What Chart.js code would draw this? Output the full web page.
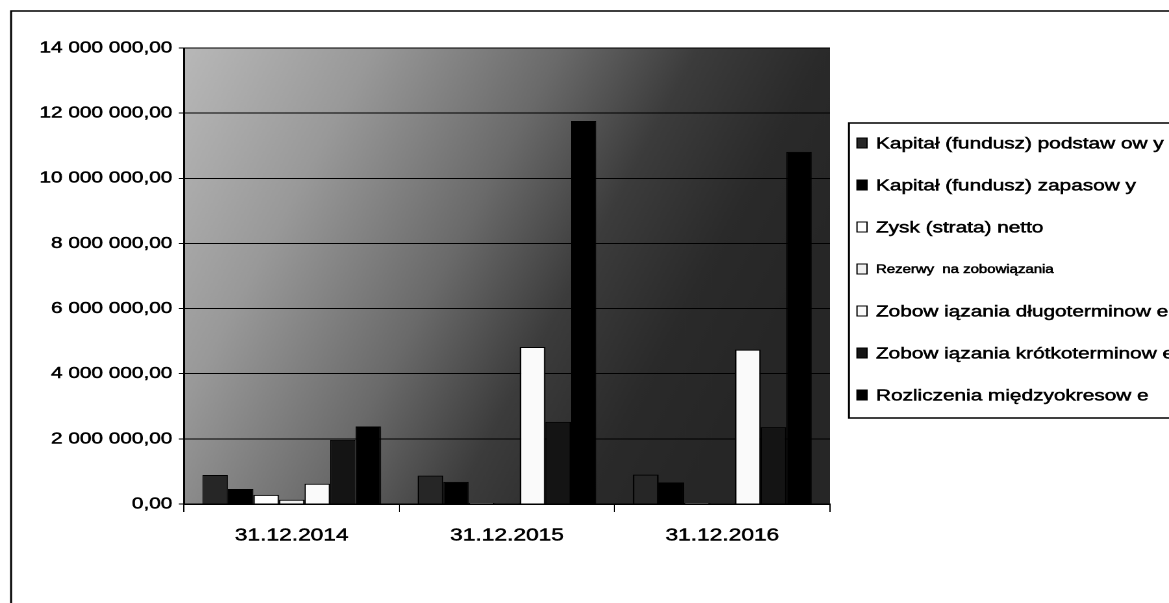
<!DOCTYPE html>
<html>
<head>
<meta charset="utf-8">
<script src="https://cdn.jsdelivr.net/npm/chart.js@4"></script>
<style>
  html, body { margin: 0; padding: 0; background: #fff; overflow: hidden; }
  /* the scan is stretched horizontally, so draw narrow and widen */
  #wrap { position: absolute; left: 0; top: 0; width: 900px; height: 603px;
          transform: scaleX(1.29889); transform-origin: 0 0; }
</style>
</head>
<body>
<div id="wrap"><canvas id="myBarChart"></canvas></div>
<script>
var categories = ['31.12.2014', '31.12.2015', '31.12.2016'];

var kapitalPodstawowy = [890000, 870000, 900000];
var kapitalZapasowy = [460000, 680000, 660000];
var zyskNetto = [280000, 30000, 30000];
var rezerwy = [130000, 20000, 20000];
var zobDlugoterminowe = [620000, 4820000, 4740000];
var zobKrotkoterminowe = [1970000, 2520000, 2360000];
var rozliczenia = [2380000, 11760000, 10810000];

var yMax = 14000000;
var yStep = 2000000;

function formatPl(v) {
    var parts = v.toFixed(2).split('.');
    var intPart = parts[0].replace(/\B(?=(\d{3})+(?!\d))/g, ' ');
    return intPart + ',' + parts[1];
}

var ctx = document.getElementById('myBarChart').getContext('2d');

// page frame + plot background
var backgroundPlugin = {
    id: 'backgroundPlugin',
    beforeDraw: function(chart) {
        var c = chart.ctx;
        var a = chart.chartArea;
        c.save();
        c.fillStyle = '#fff';
        c.fillRect(0, 0, chart.width, chart.height);
        c.strokeStyle = '#000';
        c.lineWidth = 1.5;
        c.beginPath();
        c.moveTo(8.5, chart.height + 2);
        c.lineTo(8.5, 11);
        c.lineTo(chart.width + 5, 11);
        c.stroke();
        var g = c.createLinearGradient(a.left, a.top, a.right, a.top + a.height * 0.45);
        g.addColorStop(0, '#b8b8b8');
        g.addColorStop(0.25, '#999999');
        g.addColorStop(0.5, '#6a6a6a');
        g.addColorStop(0.68, '#3c3c3c');
        g.addColorStop(0.85, '#2a2a2a');
        g.addColorStop(1, '#262626');
        c.fillStyle = g;
        c.fillRect(a.left, a.top, a.width, a.height);
        c.restore();
    }
};

// legend box on the right, cut by the page edge
var legendPlugin = {
    id: 'legendPlugin',
    afterDraw: function(chart) {
        var c = chart.ctx;
        var left = 653.6, top = 123, bottom = 418;
        c.save();
        c.fillStyle = '#fff';
        c.fillRect(left, top, chart.width - left + 5, bottom - top);
        c.strokeStyle = '#000';
        c.lineWidth = 1.5;
        c.strokeRect(left, top, chart.width - left + 5, bottom - top);
        chart.data.datasets.forEach(function(ds, i) {
            var y = 143 + i * 42;
            c.fillStyle = ds.backgroundColor;
            c.fillRect(659.8, y - 5, 7.7, 10);
            c.strokeStyle = '#000';
            c.lineWidth = 1;
            c.strokeRect(659.8, y - 5, 7.7, 10);
            c.fillStyle = '#000';
            c.font = (ds.legendSize || 16) + 'px "Liberation Sans", Arial, sans-serif';
            c.textBaseline = 'middle';
            c.lineWidth = 0.5;
            c.strokeText(ds.label, 674.4, y + 1);
            c.fillText(ds.label, 674.4, y + 1);
        });
        c.restore();
    }
};

var myBarChart = new Chart(ctx, {
    type: 'bar',
    data: {
        labels: categories,
        datasets: [{
            label: 'Kapitał (fundusz) podstaw ow y',
            data: kapitalPodstawowy,
            backgroundColor: '#262626'
        }, {
            label: 'Kapitał (fundusz) zapasow y',
            data: kapitalZapasowy,
            backgroundColor: '#000000'
        }, {
            label: 'Zysk (strata) netto',
            data: zyskNetto,
            backgroundColor: '#ffffff'
        }, {
            label: 'Rezerwy  na zobowiązania',
            data: rezerwy,
            backgroundColor: '#f0f0f0',
            legendSize: 11.5
        }, {
            label: 'Zobow iązania długoterminow e',
            data: zobDlugoterminowe,
            backgroundColor: '#fafafa'
        }, {
            label: 'Zobow iązania krótkoterminow e',
            data: zobKrotkoterminowe,
            backgroundColor: '#141414'
        }, {
            label: 'Rozliczenia międzyokresow e',
            data: rozliczenia,
            backgroundColor: '#000000'
        }]
    },
    options: {
        responsive: true,
        maintainAspectRatio: false,
        devicePixelRatio: 2,
        animation: false,
        datasets: {
            bar: {
                categoryPercentage: 0.83,
                barPercentage: 1,
                borderColor: '#000',
                borderWidth: 1
            }
        },
        layout: {
            padding: { top: 48, right: 261, bottom: 39, left: 0 }
        },
        plugins: {
            legend: { display: false },
            tooltip: { enabled: false }
        },
        scales: {
            x: {
                grid: { offset: true, drawOnChartArea: false, color: '#000', tickLength: 8, lineWidth: 1 },
                border: { color: '#000', width: 1.5 },
                ticks: {
                    color: '#000',
                    padding: 13,
                    maxRotation: 0,
                    textStrokeColor: '#000',
                    textStrokeWidth: 0.5,
                    font: { family: '"Liberation Sans", Arial, sans-serif', size: 17.5 }
                },
                afterFit: function(scale) { scale.height = 60; }
            },
            y: {
                min: 0,
                max: yMax,
                grid: { color: '#000', tickLength: 4, lineWidth: 1 },
                border: { color: '#000', width: 1.5 },
                ticks: {
                    stepSize: yStep,
                    color: '#000',
                    padding: 5,
                    textStrokeColor: '#000',
                    textStrokeWidth: 0.5,
                    font: { family: '"Liberation Sans", Arial, sans-serif', size: 16 },
                    callback: function(v) { return formatPl(v); }
                },
                afterFit: function(scale) { scale.width = 141.7; }
            }
        }
    },
    plugins: [backgroundPlugin, legendPlugin]
});
</script>
</body>
</html>
